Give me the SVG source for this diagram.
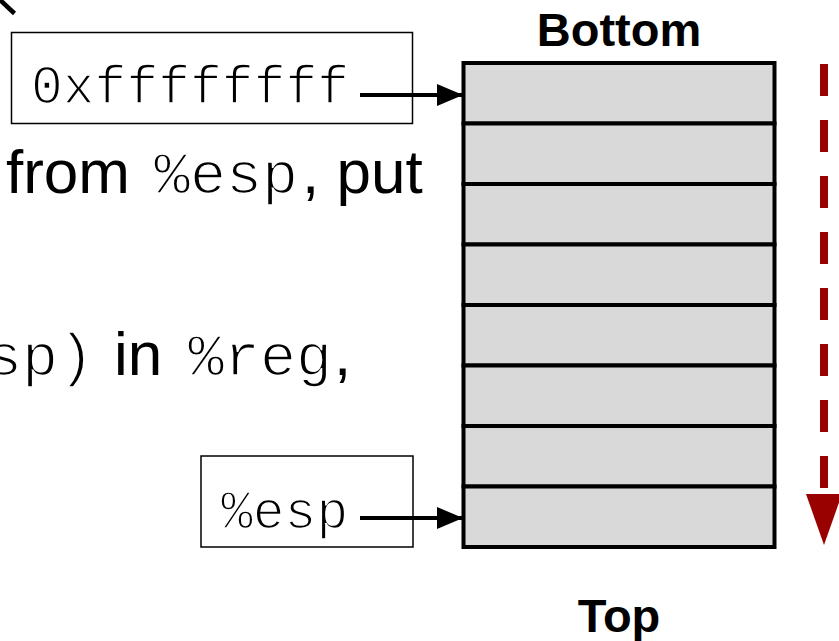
<svg xmlns="http://www.w3.org/2000/svg" width="839" height="641" viewBox="0 0 839 641">
  <style>
    .sans { font-family: "Liberation Sans", Arial, sans-serif; fill: #000; stroke: none; }
    .mono { font-family: "Liberation Mono", "Courier New", monospace; fill: #000; stroke: #fff; stroke-width: 1.6; }
    .bold { font-weight: bold; font-size: 47px; text-anchor: middle; }
    .box { fill: #fff; stroke: #000; stroke-width: 1.5; }
    .cell { fill: #d9d9d9; stroke: #000; stroke-width: 4; }
    .ptr { stroke: #000; stroke-width: 4; fill: none; marker-end: url(#head); }
  </style>
  <defs>
    <marker id="head" markerUnits="userSpaceOnUse" markerWidth="28" markerHeight="24" viewBox="0 0 28 24" refX="26" refY="12" orient="auto">
      <path d="M0,1 L26,12 L0,23 Z" fill="#000"/>
    </marker>
  </defs>

  <rect width="839" height="641" fill="#fff"/>

  <!-- stroke entering from the upper left corner -->
  <line x1="-3" y1="-3" x2="14.5" y2="13.5" stroke="#000" stroke-width="4.5"/>

  <!-- instruction text fragments -->
  <text class="sans" y="193" font-size="62"><tspan x="6">from</tspan><tspan class="mono" x="154" font-size="60">%esp</tspan><tspan x="302">, put</tspan></text>
  <text class="sans" y="375" font-size="62"><tspan class="mono" x="-14" font-size="60">sp)</tspan><tspan x="114">in</tspan><tspan class="mono" x="188" font-size="60">%reg</tspan><tspan x="334">,</tspan></text>

  <!-- stack of memory cells -->
  <g id="stack">
    <rect class="cell" x="463.5" y="63" width="311" height="60.5"/>
    <rect class="cell" x="463.5" y="123.5" width="311" height="60.5"/>
    <rect class="cell" x="463.5" y="184" width="311" height="60.5"/>
    <rect class="cell" x="463.5" y="244.5" width="311" height="60.5"/>
    <rect class="cell" x="463.5" y="305" width="311" height="60.5"/>
    <rect class="cell" x="463.5" y="365.5" width="311" height="60.5"/>
    <rect class="cell" x="463.5" y="426" width="311" height="60.5"/>
    <rect class="cell" x="463.5" y="486.5" width="311" height="60.5"/>
  </g>

  <g id="label-bottom">
    <text class="sans bold" x="619" y="46">Bottom</text>
  </g>
  <g id="label-top">
    <text class="sans bold" x="619" y="632">Top</text>
  </g>

  <g id="box-addr">
    <rect class="box" x="11.5" y="32.5" width="401" height="91"/>
    <text class="mono" x="31" y="103" font-size="53">0xffffffff</text>
  </g>

  <g id="box-esp">
    <rect class="box" x="201" y="456" width="212" height="91"/>
    <text class="mono" x="221" y="528" font-size="53">%esp</text>
  </g>

  <g id="connectors">
    <line class="ptr" x1="360" y1="95" x2="463" y2="95"/>
    <line class="ptr" x1="360" y1="518" x2="463" y2="518"/>
    <!-- growth direction -->
    <line x1="824" y1="64" x2="824" y2="488" stroke="#990000" stroke-width="8" stroke-dasharray="32 24"/>
    <polygon points="806,494 842,494 824,545" fill="#990000"/>
  </g>
</svg>
